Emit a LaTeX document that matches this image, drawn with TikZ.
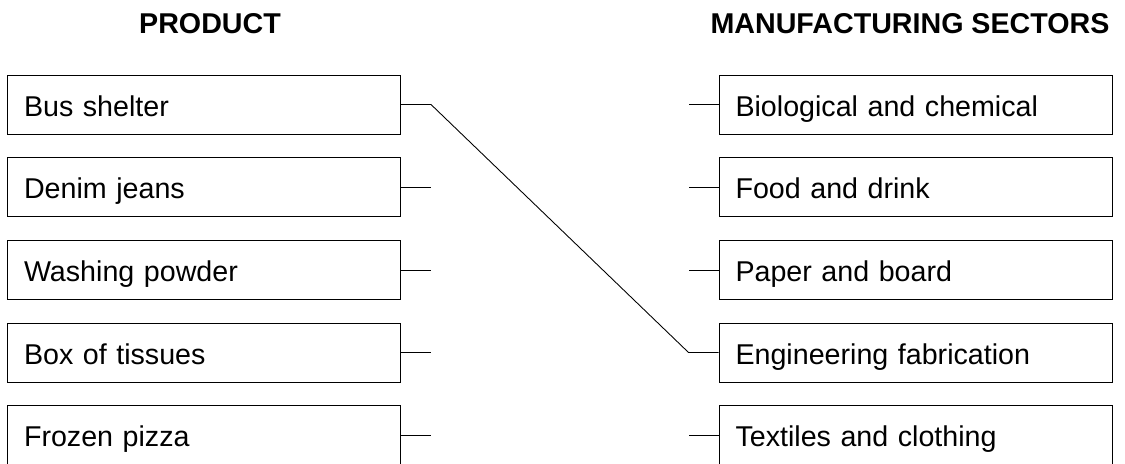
\documentclass[tikz,border=0pt]{standalone}
\usepackage{fontspec}
\setmainfont{Liberation Sans}
\usepackage{tikz}

\begin{document}
\begin{tikzpicture}[
    box/.style={draw, line width=0.55pt, minimum height=1.18cm, text width=7.2cm, text height=15.4pt, text depth=1.8pt, inner xsep=0.33cm, align=left, font=\fontsize{16.3pt}{19pt}\selectfont},
    head/.style={font=\fontsize{16.3pt}{19pt}\selectfont\bfseries},
    wire/.style={line width=0.5pt}
]
\useasboundingbox (0,0) rectangle (22.5,9.28);
% Headings
\node[head] (hprod) at (4.2,8.8) {PRODUCT};
\node[head] (hsect) at (18.2,8.8) {MANUFACTURING SECTORS};
% Products
\node[box] (p1) at (4.08,7.19) {Bus shelter};
\node[box] (p2) at (4.08,5.54) {Denim jeans};
\node[box] (p3) at (4.08,3.88) {Washing powder};
\node[box] (p4) at (4.08,2.23) {Box of tissues};
\node[box] (p5) at (4.08,0.58) {Frozen pizza};
% Sectors
\node[box] (s1) at (18.31,7.19) {Biological and chemical};
\node[box] (s2) at (18.31,5.54) {Food and drink};
\node[box] (s3) at (18.31,3.88) {Paper and board};
\node[box] (s4) at (18.31,2.23) {Engineering fabrication};
\node[box] (s5) at (18.31,0.58) {Textiles and clothing};

% stub ends
\coordinate (a1) at ([xshift=0.6cm]p1.east);
\coordinate (a2) at ([xshift=0.6cm]p2.east);
\coordinate (a3) at ([xshift=0.6cm]p3.east);
\coordinate (a4) at ([xshift=0.6cm]p4.east);
\coordinate (a5) at ([xshift=0.6cm]p5.east);
\coordinate (b1) at ([xshift=-0.6cm]s1.west);
\coordinate (b2) at ([xshift=-0.6cm]s2.west);
\coordinate (b3) at ([xshift=-0.6cm]s3.west);
\coordinate (b4) at ([xshift=-0.6cm]s4.west);
\coordinate (b5) at ([xshift=-0.6cm]s5.west);

\draw[wire] (p1.east) -- (a1) -- (b4) -- (s4.west);
\draw[wire] (p2.east) -- (a2);
\draw[wire] (p3.east) -- (a3);
\draw[wire] (p4.east) -- (a4);
\draw[wire] (p5.east) -- (a5);
\draw[wire] (s1.west) -- (b1);
\draw[wire] (s2.west) -- (b2);
\draw[wire] (s3.west) -- (b3);
\draw[wire] (s5.west) -- (b5);
\end{tikzpicture}
\end{document}
